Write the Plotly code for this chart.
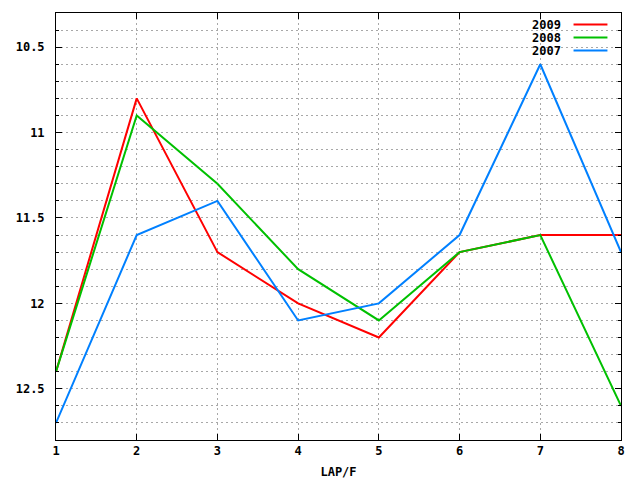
import plotly.graph_objects as go

# lap times per year
laps = [1, 2, 3, 4, 5, 6, 7, 8]
years = ["2009", "2008", "2007"]
t2009 = [12.4, 10.8, 11.7, 12.0, 12.2, 11.7, 11.6, 11.6]
t2008 = [12.4, 10.9, 11.3, 11.8, 12.1, 11.7, 11.6, 12.6]
t2007 = [12.7, 11.6, 11.4, 12.1, 12.0, 11.6, 10.6, 11.7]
colors = ["#ff0000", "#00c000", "#0080ff"]

fnt = dict(family="DejaVu Sans Mono", size=12, color="black", weight="bold")
grid = dict(showgrid=True, gridcolor="#a8a8a8", griddash="2px,3px", gridwidth=1)

fig = go.Figure()
for name, vals, col in zip(years, [t2009, t2008, t2007], colors):
    fig.add_trace(go.Scatter(x=laps, y=vals, name=name, mode="lines",
                             line=dict(color=col, width=2), showlegend=False))

# gnuplot-style key: label on the left, line sample on the right
for i, (name, col) in enumerate(zip(years, colors)):
    yy = 0.973 - i * 0.0305
    fig.add_annotation(x=0.898, y=yy, xref="paper", yref="paper", text=name,
                       showarrow=False, xanchor="right", yanchor="middle", font=fnt)
    fig.add_shape(type="line", xref="paper", yref="paper",
                  x0=0.916, x1=0.976, y0=yy, y1=yy, line=dict(color=col, width=2))

fig.update_layout(
    width=640, height=480,
    margin=dict(l=56, r=19, t=13, b=40),
    plot_bgcolor="white", paper_bgcolor="white",
    font=fnt,
)
fig.update_xaxes(
    range=[1, 8], dtick=1, tickfont=fnt, automargin=False,
    showline=True, linecolor="black", linewidth=1, mirror="ticks",
    ticks="inside", ticklen=6, tickcolor="black",
    zeroline=False, **grid,
    title=dict(text="LAP/F", font=fnt, standoff=10),
)
fig.update_yaxes(
    range=[12.8, 10.3], dtick=0.5, tick0=10.5, tickfont=fnt, automargin=False,
    showline=True, linecolor="black", linewidth=1, mirror="ticks",
    ticks="inside", ticklen=6, tickcolor="black",
    zeroline=False, ticklabelstandoff=8, **grid,
    minor=dict(dtick=0.1, tick0=10.5, ticks="inside", ticklen=3, tickcolor="black", **grid),
)

# drop the page's default body margin so the figure sits at the top-left corner
fig.write_html("out.html", config={"displayModeBar": False},
               post_script="document.body.style.margin='0';")
